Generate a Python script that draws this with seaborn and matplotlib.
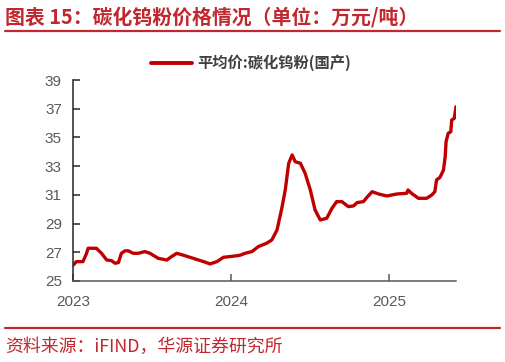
import pandas as pd
import matplotlib
matplotlib.use("Agg")
import matplotlib.pyplot as plt
import seaborn as sns

# ── data ──────────────────────────────────────────────────────────────────
dates = [
    "2023-01-01", "2023-01-09", "2023-01-24", "2023-02-01", "2023-02-05",
    "2023-02-24", "2023-03-08", "2023-03-20", "2023-03-31", "2023-04-08",
    "2023-04-16", "2023-04-23", "2023-05-01", "2023-05-09", "2023-05-20",
    "2023-06-01", "2023-06-16", "2023-06-28", "2023-07-17", "2023-08-06",
    "2023-08-17", "2023-08-29", "2023-09-13", "2023-10-06", "2023-10-30",
    "2023-11-14", "2023-11-30", "2023-12-15", "2023-12-30", "2024-01-15",
    "2024-01-23", "2024-02-03", "2024-02-19", "2024-03-05", "2024-03-24",
    "2024-04-05", "2024-04-17", "2024-04-28", "2024-05-06", "2024-05-14",
    "2024-05-22", "2024-05-29", "2024-06-10", "2024-06-21", "2024-07-03",
    "2024-07-14", "2024-07-26", "2024-08-10", "2024-08-22", "2024-09-02",
    "2024-09-14", "2024-09-29", "2024-10-11", "2024-10-19", "2024-11-03",
    "2024-11-11", "2024-11-23", "2024-12-08", "2024-12-27", "2025-01-19",
    "2025-02-11", "2025-02-14", "2025-02-22", "2025-03-10", "2025-03-29",
    "2025-04-10", "2025-04-17", "2025-04-21", "2025-04-29", "2025-05-07",
    "2025-05-11", "2025-05-13", "2025-05-18", "2025-05-24", "2025-05-26",
    "2025-06-01", "2025-06-05",
]
prices = [
    26.1, 26.35, 26.35, 26.9, 27.28,
    27.28, 26.93, 26.46, 26.42, 26.24,
    26.28, 26.93, 27.1, 27.1, 26.93,
    26.93, 27.05, 26.93, 26.58, 26.46,
    26.7, 26.93, 26.8, 26.58, 26.35,
    26.19, 26.35, 26.65, 26.7, 26.76,
    26.8, 26.93, 27.05, 27.4, 27.63,
    27.86, 28.56, 30.06, 31.34, 33.2,
    33.78, 33.31, 33.2, 32.5, 31.34,
    29.95, 29.25, 29.37, 30.06, 30.53,
    30.53, 30.18, 30.23, 30.46, 30.53,
    30.83, 31.22, 31.06, 30.92, 31.06,
    31.11, 31.34, 31.11, 30.76, 30.76,
    30.99, 31.22, 32.04, 32.22, 32.73,
    33.66, 34.7, 35.29, 35.4, 36.21,
    36.33, 37.14,
]
series_name = "平均价:碳化钨粉(国产)"
y_ticks = [25, 27, 29, 31, 33, 35, 37, 39]
x_ticks = ["2023-01-01", "2024-01-01", "2025-01-01"]
x_tick_labels = ["2023", "2024", "2025"]

title = "图表 15：碳化钨粉价格情况（单位：万元/吨）"
source = "资料来源：iFIND，华源证券研究所"

df = pd.DataFrame({"date": pd.to_datetime(dates), "price": prices})

# ── style ─────────────────────────────────────────────────────────────────
sns.set_style("white")
plt.rcParams["font.family"] = ["Liberation Sans", "Noto Sans CJK SC", "DejaVu Sans"]

RED = "#c00000"
HEAD_RED = "#c0282f"
GREY = "#595959"

fig = plt.figure(figsize=(5.06, 3.62), dpi=100)
ax = fig.add_axes([73 / 506, 1 - 281 / 362, (456 - 73) / 506, (281 - 80) / 362])

sns.lineplot(data=df, x="date", y="price", ax=ax, color=RED, linewidth=2.4,
             label=series_name, legend=False)

ax.set_xlim(pd.Timestamp("2023-01-01"), pd.Timestamp("2025-06-05"))
ax.set_ylim(25, 39)
ax.set_yticks(y_ticks)
ax.set_xticks(pd.to_datetime(x_ticks))
ax.set_xticklabels(x_tick_labels)
ax.set_xlabel("")
ax.set_ylabel("")

for side in ["top", "right"]:
    ax.spines[side].set_visible(False)
ax.spines["left"].set_color("#262626")
ax.spines["bottom"].set_color(GREY)
ax.spines["left"].set_linewidth(1.1)
ax.spines["bottom"].set_linewidth(1.1)

ax.tick_params(axis="y", direction="in", length=5, width=1.1, color="#262626",
               labelsize=11, labelcolor=GREY, pad=8, left=True)
ax.tick_params(axis="x", direction="in", length=5, width=1.1, color=GREY,
               labelsize=11, labelcolor=GREY, pad=10, bottom=True)

handles, labels = ax.get_legend_handles_labels()
leg = fig.legend(handles, labels, loc="center", bbox_to_anchor=(251 / 506, 1 - 63 / 362),
                 frameon=False, handlelength=2.7, handletextpad=0.35,
                 prop={"family": ["Noto Sans CJK SC"], "weight": "bold", "size": 11})
for t in leg.get_texts():
    t.set_color("#404040")
for line in leg.get_lines():
    line.set_linewidth(2.8)

# header & footer
fig.text(5 / 506, 1 - 17 / 362, title, ha="left", va="center", color=HEAD_RED,
         fontsize=14.3, fontweight="bold", family=["Noto Sans CJK SC", "DejaVu Sans"])
fig.add_artist(plt.Line2D([5 / 506, 500 / 506], [1 - 31 / 362, 1 - 31 / 362],
                          color=HEAD_RED, linewidth=1.6, transform=fig.transFigure))
fig.add_artist(plt.Line2D([5 / 506, 500 / 506], [1 - 328 / 362, 1 - 328 / 362],
                          color=HEAD_RED, linewidth=1.6, transform=fig.transFigure))
fig.text(5 / 506, 1 - 347 / 362, source, ha="left", va="center", color=HEAD_RED,
         fontsize=12.9, family=["Noto Sans CJK SC", "DejaVu Sans"])

fig.savefig("out.png", dpi=100)
